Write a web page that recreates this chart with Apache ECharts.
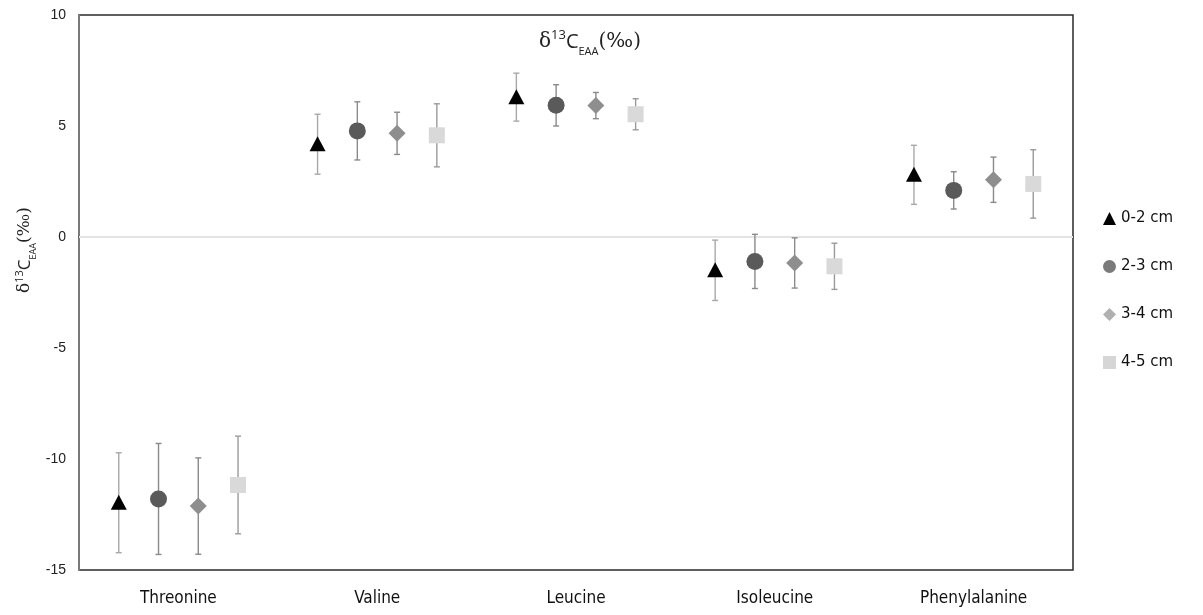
<!DOCTYPE html>
<html>
<head>
<meta charset="utf-8">
<script src="https://cdn.jsdelivr.net/npm/echarts@6/dist/echarts.min.js"></script>
<style>html,body{margin:0;padding:0;background:#fff;}#c{width:1203px;height:615px;}</style>
</head>
<body>
<div id="c"></div>
<script>
var categories = ['Threonine', 'Valine', 'Leucine', 'Isoleucine', 'Phenylalanine'];
var seriesNames = ['0-2 cm', '2-3 cm', '3-4 cm', '4-5 cm'];
var mean02 = [-11.97, 4.18, 6.3, -1.5, 2.8];
var err02  = [2.25, 1.35, 1.08, 1.36, 1.33];
var mean23 = [-11.8, 4.78, 5.93, -1.1, 2.1];
var err23  = [2.5, 1.31, 0.93, 1.22, 0.84];
var mean34 = [-12.12, 4.67, 5.92, -1.17, 2.58];
var err34  = [2.17, 0.95, 0.59, 1.13, 1.02];
var mean45 = [-11.17, 4.58, 5.53, -1.32, 2.39];
var err45  = [2.2, 1.42, 0.7, 1.04, 1.54];
var yTicks = [-15, -10, -5, 0, 5, 10];

var means = [mean02, mean23, mean34, mean45];
var errs = [err02, err23, err34, err45];
var colors = ['#000000', '#5a5a5a', '#8e8e8e', '#d9d9d9'];
var legendColors = ['#000000', '#7a7a7a', '#b0b0b0', '#d6d6d6'];
var errColors = ['#a8a8a8', '#8a8a8a', '#8a8a8a', '#9a9a9a'];
var shapes = ['triangle', 'circle', 'diamond', 'square'];
var fracs = [-0.3, -0.1, 0.1, 0.3];

function makeRender(k) {
  return function (params, api) {
    var idx = api.value(0), m = api.value(1), e = api.value(2);
    var c = api.coord([idx, m]);
    var band = api.size([1, 0])[0];
    var x = c[0] + fracs[k] * band, y = c[1];
    var yt = api.coord([idx, m + e])[1];
    var yb = api.coord([idx, m - e])[1];
    var es = { stroke: errColors[k], lineWidth: 1.4 };
    var ch = [
      { type: 'line', shape: { x1: x, y1: yt, x2: x, y2: yb }, style: es },
      { type: 'line', shape: { x1: x - 3, y1: yt, x2: x + 3, y2: yt }, style: es },
      { type: 'line', shape: { x1: x - 3, y1: yb, x2: x + 3, y2: yb }, style: es }
    ];
    var fill = { fill: colors[k] };
    if (shapes[k] === 'triangle') {
      ch.push({ type: 'polygon', shape: { points: [[x, y - 8], [x - 8, y + 7], [x + 8, y + 7]] }, style: fill });
    } else if (shapes[k] === 'circle') {
      ch.push({ type: 'circle', shape: { cx: x, cy: y, r: 8.5 }, style: fill });
    } else if (shapes[k] === 'diamond') {
      ch.push({ type: 'polygon', shape: { points: [[x, y - 8.5], [x + 8.5, y], [x, y + 8.5], [x - 8.5, y]] }, style: fill });
    } else {
      ch.push({ type: 'rect', shape: { x: x - 8, y: y - 8, width: 16, height: 16 }, style: fill });
    }
    return { type: 'group', children: ch };
  };
}

var series = seriesNames.map(function (name, k) {
  var s = {
    name: name,
    type: 'custom',
    renderItem: makeRender(k),
    itemStyle: { color: legendColors[k] },
    encode: { x: 0, y: 1 },
    data: categories.map(function (cat, i) { return [i, means[k][i], errs[k][i]]; }),
    z: 3 + k
  };
  if (k === 0) {
    s.markLine = {
      silent: true, symbol: 'none', label: { show: false },
      lineStyle: { color: '#e4e4e4', width: 2, type: 'solid', opacity: 1 },
      emphasis: { disabled: true, lineStyle: { color: '#e4e4e4', width: 2 } },
      data: [{ yAxis: 0, lineStyle: { color: '#e4e4e4', width: 2 } }], z: 1
    };
  }
  return s;
});

var legendIcons = ['triangle', 'circle', 'diamond', 'rect'];

var richTitle = function (big, sup, sub) {
  return {
    d: { fontFamily: 'DejaVu Serif', fontSize: big, fontWeight: 'normal', color: '#222', fill: '#222', verticalAlign: 'bottom' },
    c: { fontFamily: 'Open Sans', fontSize: big, fontWeight: 'normal', color: '#222', fill: '#222', verticalAlign: 'bottom' },
    sup: { fontFamily: 'Open Sans', fontSize: sup, fontWeight: 'normal', color: '#222', fill: '#222', verticalAlign: 'top', padding: [0, 0, Math.round(sup * 0.75), 0] },
    sub: { fontFamily: 'Open Sans', fontSize: sub, fontWeight: 'normal', color: '#222', fill: '#222', verticalAlign: 'bottom', padding: [0, 0, -Math.round(sub * 0.45), 0] }
  };
};

var chart = echarts.init(document.getElementById('c'));
chart.setOption({
  animation: false,
  backgroundColor: '#ffffff',
  title: {
    text: '{d|δ}{sup|13}{c|C}{sub|EAA}{d|(‰)}',
    left: 534, top: 24,
    textStyle: { fontWeight: 'normal', rich: richTitle(20, 13, 11) }
  },
  legend: {
    orient: 'vertical',
    left: 1098, top: 206,
    itemWidth: 13, itemHeight: 13, itemGap: 33,
    textStyle: { fontFamily: 'DejaVu Sans', fontSize: 15, color: '#111' },
    data: seriesNames.map(function (n, k) { return { name: n, icon: legendIcons[k], itemStyle: { color: legendColors[k] } }; })
  },
  grid: {
    left: 79, top: 15, right: 130, bottom: 45,
    show: true, borderColor: '#2a2a2a', borderWidth: 1.5, backgroundColor: '#fff'
  },
  xAxis: {
    type: 'category',
    data: categories,
    axisLine: { show: true, lineStyle: { color: '#222', width: 1.5 } },
    axisTick: { show: false },
    axisLabel: { fontFamily: 'Liberation Sans Narrow, DejaVu Sans Condensed, sans-serif', fontSize: 17, color: '#111', margin: 20 },
    splitLine: { show: false }
  },
  yAxis: {
    type: 'value',
    min: yTicks[0], max: yTicks[yTicks.length - 1], interval: 5,
    axisLine: { show: true, lineStyle: { color: '#7a7a7a', width: 2 } },
    axisTick: { show: false },
    axisLabel: { fontFamily: 'Liberation Sans', fontSize: 14, color: '#222', margin: 13 },
    splitLine: { show: false }
  },
  graphic: [{
    type: 'text',
    x: 24, y: 250,
    rotation: Math.PI / 2,
    style: {
      text: '{d|δ}{sup|13}{c|C}{sub|EAA}{d|(‰)}',
      align: 'center', verticalAlign: 'middle',
      rich: richTitle(17, 11, 9)
    }
  }],
  series: series
});
</script>
</body>
</html>
